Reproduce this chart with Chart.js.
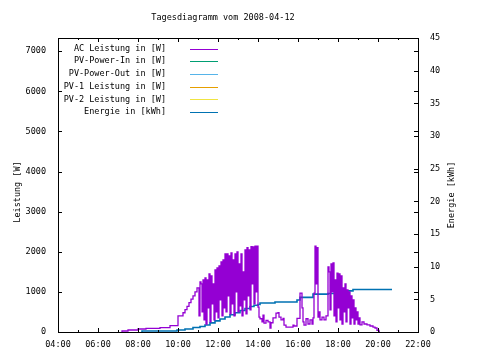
<!DOCTYPE html>
<html>
<head>
<meta charset="utf-8">
<script src="https://cdn.jsdelivr.net/npm/chart.js@4.4.1/dist/chart.umd.min.js"></script>
<style>
  body { margin: 0; background: #fff; }
</style>
</head>
<body>
<canvas id="dayChart" width="480" height="360"></canvas>
<script>
const chartTitle = 'Tagesdiagramm vom 2008-04-12';
const seriesLabels = ['AC Leistung in [W]', 'PV-Power-In in [W]', 'PV-Power-Out in [W]', 'PV-1 Leistung in [W]', 'PV-2 Leistung in [W]', 'Energie in [kWh]'];
const seriesColors = ['#9400d3', '#009e73', '#56b4e9', '#e69f00', '#f0e442', '#0072b2'];
const xTickLabels = ['04:00', '06:00', '08:00', '10:00', '12:00', '14:00', '16:00', '18:00', '20:00', '22:00'];
const yTicks = [0, 1000, 2000, 3000, 4000, 5000, 6000, 7000];
const y2Ticks = [0, 5, 10, 15, 20, 25, 30, 35, 40, 45];

// time in minutes after midnight
const acTime = [432, 450, 480, 504, 546, 576, 600, 615, 621, 627, 633, 639, 645, 651, 657, 663,
  666, 669, 672, 675, 678, 681, 684, 687, 690, 693, 696, 699, 702, 705, 708, 711, 714, 717, 720, 723,
  726, 729, 732, 735, 738, 741, 744, 747, 750, 753, 756, 759, 762, 765, 768, 771, 774, 777, 780, 783,
  786, 789, 792, 795, 798, 801, 804, 807, 810, 813, 816, 819, 822, 825, 828, 831, 834, 837, 840, 843,
  846, 852, 855, 858, 864, 870, 876, 879, 885, 888, 894, 900, 903, 909, 915, 918, 924, 930, 945, 948,
  957, 966, 972, 975, 978, 984, 990, 996, 1002, 1005, 1008, 1011, 1014, 1017, 1020, 1023, 1026, 1032,
  1038, 1044, 1050, 1053, 1056, 1059, 1062, 1065, 1068, 1071, 1074, 1077, 1080, 1083, 1086, 1089, 1092,
  1095, 1098, 1101, 1104, 1107, 1110, 1113, 1116, 1119, 1122, 1125, 1128, 1131, 1134, 1137, 1140, 1143,
  1146, 1152, 1158, 1167, 1176, 1185, 1191, 1197, 1203, 1206];
const acPower = [0, 25, 50, 75, 90, 110, 160, 400, 480, 560, 640, 730, 820, 900, 1000, 1100,
  400, 1250, 1200, 500, 1300, 300, 1350, 200, 1300, 600, 1450, 250, 1400, 700, 1200, 300, 1550, 500, 1600, 350,
  1650, 800, 1750, 400, 1800, 600, 1950, 500, 1950, 900, 1900, 450, 1970, 700, 1800, 400, 1950, 1000, 2000, 500,
  1700, 650, 1950, 400, 1500, 800, 2050, 450, 2100, 900, 2050, 550, 2130, 1200, 2120, 700, 2140, 1000, 2140, 620,
  370, 330, 250, 420, 220, 290, 250, 100, 230, 350, 350, 470, 480, 370, 300, 340, 170, 120, 120, 170,
  150, 340, 970, 600, 250, 170, 330, 200, 300, 200, 350, 970, 2140, 1200, 2100, 370, 500, 300,
  370, 300, 400, 1620, 1500, 550, 1700, 1000, 1720, 400, 1300, 250, 1470, 600, 1450, 300, 1400,
  200, 1100, 500, 1200, 250, 1050, 600, 1000, 200, 900, 350, 800, 200, 600, 300, 500, 200,
  350, 180, 250, 200, 180, 150, 120, 100, 40, 0];

const energyTime = [492, 597, 621, 645, 666, 681, 696, 711, 726, 741, 756, 771, 786, 801, 816, 828, 840,
  846, 891, 957, 966, 1005, 1050, 1071, 1095, 1125, 1146, 1242];
const energyKwh = [0, 0.15, 0.3, 0.45, 0.7, 0.85, 1.07, 1.4, 1.7, 2.0, 2.3, 2.65, 2.95, 3.3, 3.6, 3.9, 4.1,
  4.2, 4.45, 4.6, 4.9, 5.3, 5.8, 5.9, 6.15, 6.3, 6.5, 6.5];

const FONT = '8.5px "DejaVu Sans Mono"';

const toPoints = (xs, ys) => xs.map((x, i) => ({ x: x, y: ys[i] }));

// gnuplot style frame, inward ticks, key and labels
const gnuplotFrame = {
  id: 'gnuplotFrame',
  afterDatasetsDraw(chart) {
    const { ctx, chartArea: a, scales } = chart;
    ctx.save();
    ctx.strokeStyle = '#000';
    ctx.lineWidth = 1;
    ctx.strokeRect(a.left + 0.5, a.top + 0.5, a.right - a.left, a.bottom - a.top);

    ctx.beginPath();
    for (let v = 240; v <= 1320; v += 60) {
      const len = v % 120 === 0 ? 4 : 2;
      const px = Math.round(scales.x.getPixelForValue(v)) + 0.5;
      ctx.moveTo(px, a.bottom); ctx.lineTo(px, a.bottom - len);
      ctx.moveTo(px, a.top); ctx.lineTo(px, a.top + len);
    }
    yTicks.forEach((v) => {
      const py = Math.round(scales.y.getPixelForValue(v)) + 0.5;
      ctx.moveTo(a.left, py); ctx.lineTo(a.left + 4, py);
      ctx.moveTo(a.right, py); ctx.lineTo(a.right - 4, py);
    });
    y2Ticks.forEach((v) => {
      const py = Math.round(scales.y2.getPixelForValue(v)) + 0.5;
      ctx.moveTo(a.right, py); ctx.lineTo(a.right - 4, py);
    });
    ctx.stroke();

    ctx.fillStyle = '#000';
    ctx.font = FONT;
    ctx.textBaseline = 'middle';

    // key
    chart.data.datasets.forEach((ds, i) => {
      const y = 48.5 + i * 12.7;
      ctx.textAlign = 'right';
      ctx.fillText(ds.label, 166, y);
      ctx.strokeStyle = ds.borderColor;
      ctx.lineWidth = 1;
      ctx.beginPath();
      ctx.moveTo(190, Math.round(y) + 0.5);
      ctx.lineTo(218, Math.round(y) + 0.5);
      ctx.stroke();
    });

    ctx.textAlign = 'center';
    ctx.fillText(chartTitle, 223, 18);

    ctx.save();
    ctx.translate(18, 192);
    ctx.rotate(-Math.PI / 2);
    ctx.fillText('Leistung [W]', 0, 0);
    ctx.restore();

    ctx.save();
    ctx.translate(452, 195);
    ctx.rotate(-Math.PI / 2);
    ctx.fillText('Energie [kWh]', 0, 0);
    ctx.restore();

    ctx.restore();
  }
};

const datasets = seriesLabels.map((label, i) => ({
  label: label,
  data: [],
  borderColor: seriesColors[i],
  borderWidth: 1.3,
  pointRadius: 0,
  stepped: 'after',
  yAxisID: 'y'
}));
datasets[0].data = toPoints(acTime, acPower);
datasets[5].data = toPoints(energyTime, energyKwh);
datasets[5].yAxisID = 'y2';
datasets[5].borderWidth = 1.6;

const tickFont = { family: 'DejaVu Sans Mono', size: 8.5 };
const noGrid = { display: false, drawTicks: false, tickLength: 0 };

new Chart(document.getElementById('dayChart'), {
  type: 'line',
  data: { datasets: datasets },
  plugins: [gnuplotFrame],
  options: {
    responsive: false,
    animation: false,
    devicePixelRatio: 1,
    layout: { padding: { top: 38, left: 0, right: 0, bottom: 0 } },
    plugins: {
      legend: { display: false },
      title: { display: false },
      tooltip: { enabled: false }
    },
    scales: {
      x: {
        type: 'linear',
        min: 240,
        max: 1320,
        grid: noGrid,
        border: { display: false },
        afterFit: (s) => { s.height = 28; },
        afterBuildTicks: (s) => { s.ticks = xTickLabels.map((t, i) => ({ value: 240 + i * 120 })); },
        ticks: {
          padding: 8,
          maxRotation: 0,
          autoSkip: false,
          color: '#000',
          font: tickFont,
          callback: (v) => xTickLabels[(v - 240) / 120]
        }
      },
      y: {
        min: 0,
        max: 7330,
        grid: noGrid,
        border: { display: false },
        afterFit: (s) => { s.width = 58; },
        afterBuildTicks: (s) => { s.ticks = yTicks.map((v) => ({ value: v })); },
        ticks: { padding: 12, autoSkip: false, color: '#000', font: tickFont, callback: (v) => String(v) }
      },
      y2: {
        position: 'right',
        min: 0,
        max: 45,
        grid: noGrid,
        border: { display: false },
        afterFit: (s) => { s.width = 62; },
        afterBuildTicks: (s) => { s.ticks = y2Ticks.map((v) => ({ value: v })); },
        ticks: { padding: 12, autoSkip: false, color: '#000', font: tickFont, callback: (v) => String(v) }
      }
    }
  }
});
</script>
</body>
</html>
